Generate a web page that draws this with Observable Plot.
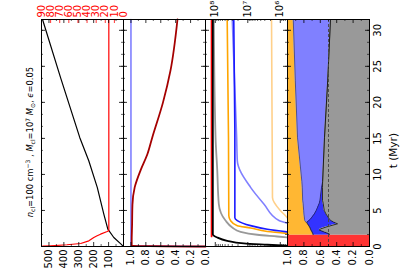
<!DOCTYPE html>
<html><head><meta charset="utf-8">
<script src="https://cdn.jsdelivr.net/npm/d3@7"></script>
<script src="https://cdn.jsdelivr.net/npm/@observablehq/plot@0.6"></script>
<style>
html,body{margin:0;padding:0;background:#fff;overflow:hidden}
#wrap{position:relative;width:411px;height:274px}
#wrap svg{position:absolute;left:0;top:0;background:none !important;}
</style></head><body><div id="wrap"></div>
<script>
// ---------- data ----------
// time axis
const tMajor = [0, 5, 10, 15, 20, 25, 30];
// panel 1 : radius-like quantity (bottom axis, 0-550) and red quantity (top axis, 0-90)
const t1Black = [0, 0.4, 1.25, 2.4, 4.5, 8.2, 11.9, 15.1, 23.3, 31.5];
const v1Black = [0, 20, 65, 105, 132, 176, 233, 293, 420, 543];
const t1Red = [0, 0.04, 0.1, 0.24, 0.42, 0.79, 1.25, 1.49, 1.71, 2.08, 2.2, 31.5];
const v1Red = [100, 89, 80, 62, 47, 38, 32.6, 28.9, 25.2, 17.9, 16.1, 16.1];
const bottomTicks1 = [100, 200, 300, 400, 500];
const topTicks1 = [0, 10, 20, 30, 40, 50, 60, 70, 80, 90];
// panel 2 : fractions
const t2Blue = [0, 0.08, 31.5];
const v2Blue = [0, 1.0, 1.0];
const t2Dark = [0, 0.08, 0.8, 3.0, 5.8, 8.2, 10.6, 12.8, 15.1, 20, 24.4, 31.5];
const v2Dark = [0, 0.99, 0.99, 0.985, 0.98, 0.95, 0.87, 0.78, 0.715, 0.57, 0.47, 0.376];
const fracTicks = [0, 0.2, 0.4, 0.6, 0.8, 1.0];
// panel 3 : masses (log)
const t3Red = [1.4, 31.5];
const v3Red = [1.3e8, 1.3e8];
const t3Black = [0, 0.1, 0.24, 0.42, 0.79, 1.25, 1.71, 31.5];
const v3Black = [2e5, 6.1e5, 2.5e6, 1.33e7, 4.3e7, 8.7e7, 1.19e8, 1.19e8];
const t3Gray = [1.25, 1.39, 1.63, 2.04, 2.64, 3.6, 5.9, 10.6, 15.1, 31.5];
const v3Gray = [5.6e5, 1.24e6, 5.1e6, 1.67e7, 3.0e7, 4.85e7, 7.8e7, 8.7e7, 9.8e7, 1.11e8];
const t3Orange = [1.8, 2.08, 2.57, 2.88, 3.6, 4.3, 15.1, 31.5];
const v3Orange = [5.6e5, 2.5e6, 8.2e6, 2.1e7, 3.4e7, 3.84e7, 3.92e7, 4.3e7];
const t3Blue = [2.0, 2.4, 2.9, 3.6, 4.0, 15.1, 31.5];
const v3Blue = [5.6e5, 2.5e6, 8.2e6, 2.1e7, 2.5e7, 2.5e7, 2.7e7];
const t3LBlue = [3.2, 3.6, 5.9, 8.2, 11.9, 15.1, 31.5];
const v3LBlue = [5.6e5, 1.1e6, 3.2e6, 8.2e6, 2.1e7, 2.2e7, 3.0e7];
const t3LOrange = [3.8, 4.26, 4.96, 6.8, 31.5];
const v3LOrange = [5.6e5, 6.9e5, 9.8e5, 1.74e6, 1.86e6];
const logLabels = [1e6, 1e7, 1e8];
// panel 4 : stacked fractions (boundaries measured from 0)
const t4 = [1.55, 1.75, 2.0, 2.3, 2.45, 2.7, 3.15, 3.4, 3.6, 3.8, 4.5, 5.0, 6.0, 6.4, 8.2, 9.0, 15.1, 23, 31.5];
const v4Orange = [0.685, 0.69, 0.70, 0.715, 0.72, 0.73, 0.756, 0.777, 0.79, 0.792, 0.80, 0.803, 0.81, 0.815, 0.82, 0.825, 0.878, 0.905, 0.93];
const v4LBlue = [0.685, 0.69, 0.70, 0.715, 0.72, 0.73, 0.756, 0.765, 0.74, 0.72, 0.674, 0.65, 0.613, 0.605, 0.585, 0.572, 0.549, 0.51, 0.476];
const v4Gray = [0.49, 0.49, 0.55, 0.613, 0.594, 0.53, 0.39, 0.44, 0.47, 0.49, 0.53, 0.552, 0.565, 0.573, 0.573, 0.572, 0.549, 0.51, 0.476];
const tRedBand = 1.55;
const dashedAt = 0.5;

// ---------- layout ----------
const W = 82, H = 227, MT = 19, MB = 28, FW = 411, FH = 274;
const lefts = [41, 123, 205, 287];
const FONT = "DejaVu Sans, sans-serif";
const yScale = {domain: [0, 31.5], axis: null};
const yMinor = d3.range(0, 31.5, 5 / 3);

function pts(ts, vs) { return ts.map((t, i) => ({t, v: vs[i]})); }
function yTicks() {
  return [
    Plot.tickY(tMajor, {insetRight: W - 4, stroke: "black", strokeWidth: 0.8}),
    Plot.tickY(tMajor, {insetLeft: W - 4, stroke: "black", strokeWidth: 0.8}),
    Plot.tickY(yMinor, {insetRight: W - 2, stroke: "black", strokeWidth: 0.6}),
    Plot.tickY(yMinor, {insetLeft: W - 2, stroke: "black", strokeWidth: 0.6})
  ];
}
function xTicks(major, minor, opts = {}) {
  const s = opts.stroke || "black";
  const out = [
    Plot.tickX(major, {insetTop: H - 4, stroke: "black", strokeWidth: 0.8}),
    Plot.tickX(major, {insetBottom: H - 4, stroke: s, strokeWidth: 0.8})
  ];
  if (minor) out.push(
    Plot.tickX(minor, {insetTop: H - 2, stroke: "black", strokeWidth: 0.6}),
    Plot.tickX(minor, {insetBottom: H - 2, stroke: s, strokeWidth: 0.6}));
  return out;
}
function base(i, x, marks) {
  return Plot.plot({
    width: FW, height: FH,
    marginLeft: lefts[i], marginRight: FW - lefts[i] - W,
    marginTop: MT, marginBottom: MB,
    x, y: yScale,
    style: {fontFamily: FONT, fontSize: "10px", background: "none", overflow: "visible"},
    marks
  });
}

const wrap = document.getElementById("wrap");

// panel 1
const k1 = 550 / 90;
const p1 = base(0, {domain: [550, 0]}, [
  Plot.line(pts(t1Black, v1Black), {x: "v", y: "t", stroke: "black", strokeWidth: 1.2, clip: true}),
  Plot.line(pts(t1Red, v1Red.map(v => v * k1)), {x: "v", y: "t", stroke: "#ff0000", strokeWidth: 1.2, clip: true}),
  ...yTicks(),
  ...xTicks(bottomTicks1, [50, 150, 250, 350, 450]),
  Plot.tickX(topTicks1.map(v => v * k1), {insetBottom: H - 4, stroke: "red", strokeWidth: 0.8}),
  Plot.axisX({anchor: "bottom", label: null, ticks: bottomTicks1, tickSize: 0, tickRotate: -90, tickPadding: 3, tickFormat: d => String(d), fill: "black"}),
  Plot.axisX({anchor: "top", label: null, ticks: topTicks1.map(v => v * k1), tickSize: 0, tickRotate: -90, tickPadding: 2, tickFormat: d => String(Math.round(d / k1)), fill: "red"}),
  Plot.text(["ANNOT"], {frameAnchor: "left", textAnchor: "middle", dx: -11, dy: 9, rotate: -90, fontSize: 8.4, fill: "black"}),
  Plot.frame({stroke: "black", strokeWidth: 1})
]);

// panel 2
const p2 = base(1, {domain: [1.1, 0]}, [
  Plot.line(pts(t2Blue, v2Blue), {x: "v", y: "t", stroke: "#8080ff", strokeWidth: 1.6}),
  Plot.line(pts(t2Dark, v2Dark), {x: "v", y: "t", stroke: "#a50000", strokeWidth: 1.8, curve: "monotone-y"}),
  ...yTicks(),
  ...xTicks(fracTicks, [0.1, 0.3, 0.5, 0.7, 0.9]),
  Plot.axisX({anchor: "bottom", label: null, ticks: fracTicks, tickSize: 0, tickRotate: -90, tickPadding: 3, tickFormat: d => d.toFixed(1)}),
  Plot.frame({stroke: "black", strokeWidth: 1})
]);

// panel 3
const sup = {6: "\u2076", 7: "\u2077", 8: "\u2078"};
const logMinor = [];
for (const e of [5, 6, 7, 8]) for (let m = 2; m <= 9; m++) { const v = m * 10 ** e; if (v >= 6e5 && v <= 2e8) logMinor.push(v); }
const p3 = base(2, {type: "log", domain: [2e8, 6e5]}, [
  Plot.line(pts(t3LOrange, v3LOrange), {x: "v", y: "t", stroke: "#ffd08a", strokeWidth: 1.6, curve: "monotone-y", clip: true}),
  Plot.line(pts(t3LBlue, v3LBlue), {x: "v", y: "t", stroke: "#8080ff", strokeWidth: 1.6, curve: "monotone-y", clip: true}),
  Plot.line(pts(t3Orange, v3Orange), {x: "v", y: "t", stroke: "#ffa500", strokeWidth: 1.6, curve: "monotone-y", clip: true}),
  Plot.line(pts(t3Blue, v3Blue), {x: "v", y: "t", stroke: "#1a1aff", strokeWidth: 1.6, curve: "monotone-y", clip: true}),
  Plot.line(pts(t3Gray, v3Gray), {x: "v", y: "t", stroke: "#999999", strokeWidth: 1.8, curve: "monotone-y", clip: true}),
  Plot.line(pts(t3Red, v3Red), {x: "v", y: "t", stroke: "#ff0000", strokeWidth: 1.8, clip: true}),
  Plot.line(pts(t3Black, v3Black), {x: "v", y: "t", stroke: "black", strokeWidth: 1.8, curve: "monotone-y", clip: true}),
  ...yTicks(),
  ...xTicks(logLabels, logMinor),
  Plot.axisX({anchor: "top", label: null, ticks: logLabels, tickSize: 0, tickRotate: -90, tickPadding: 2, tickFormat: d => "10" + sup[Math.round(Math.log10(d))]}),
  Plot.frame({stroke: "black", strokeWidth: 1})
]);

// panel 4
const d4 = t4.map((t, i) => ({t, o: v4Orange[i], lb: v4LBlue[i], g: v4Gray[i]}));
const p4 = base(3, {domain: [1, 0]}, [
  Plot.areaX(d4, {y: "t", x1: 1, x2: "o", fill: "#ffb733"}),
  Plot.areaX(d4, {y: "t", x1: "o", x2: "lb", fill: "#8080ff"}),
  Plot.areaX(d4, {y: "t", x1: "lb", x2: "g", fill: "#3333ff"}),
  Plot.areaX(d4, {y: "t", x1: "g", x2: 0, fill: "#999999"}),
  Plot.lineX(d4, {y: "t", x: "o", stroke: "#333", strokeWidth: 0.6}),
  Plot.lineX(d4, {y: "t", x: "lb", stroke: "#222", strokeWidth: 0.6}),
  Plot.lineX(d4, {y: "t", x: "g", stroke: "#111", strokeWidth: 0.8}),
  Plot.rect([0], {x1: 1, x2: 0, y1: 0, y2: tRedBand, fill: "#ff3333"}),
  Plot.ruleX([dashedAt], {stroke: "#444", strokeWidth: 0.9, strokeDasharray: "3,2"}),
  ...yTicks(),
  ...xTicks(fracTicks, [0.1, 0.3, 0.5, 0.7, 0.9]),
  Plot.axisX({anchor: "bottom", label: null, ticks: fracTicks, tickSize: 0, tickRotate: -90, tickPadding: 3, tickFormat: d => d.toFixed(1)}),
  Plot.axisY({anchor: "right", label: null, ticks: tMajor, tickSize: 0, tickRotate: -90, tickPadding: 4, textAnchor: "middle", lineAnchor: "top"}),
  Plot.text(["t (Myr)"], {frameAnchor: "right", dx: 24, rotate: -90, fontSize: 10.5, fill: "black"}),
  Plot.frame({stroke: "black", strokeWidth: 1})
]);

for (const p of [p1, p2, p3, p4]) wrap.appendChild(p);

// mathtext-like annotation
for (const t of p1.querySelectorAll("text")) {
  if (t.textContent === "ANNOT") {
    t.innerHTML =
      '<tspan font-style="italic">n</tspan><tspan dy="2.2" font-size="6">cl</tspan>' +
      '<tspan dy="-2.2">=100 cm</tspan><tspan dy="-3.5" font-size="6">\u22123</tspan>' +
      '<tspan dy="3.5"> , </tspan><tspan font-style="italic">M</tspan><tspan dy="2.2" font-size="6">cl</tspan>' +
      '<tspan dy="-2.2">=10</tspan><tspan dy="-3.5" font-size="6">7</tspan>' +
      '<tspan dy="3.5"> </tspan><tspan font-style="italic">M</tspan><tspan dy="2.2" font-size="6">\u2299</tspan>' +
      '<tspan dy="-2.2">, </tspan><tspan font-style="italic">\u03f5</tspan><tspan>=0.05</tspan>';
  }
}
</script></body></html>
